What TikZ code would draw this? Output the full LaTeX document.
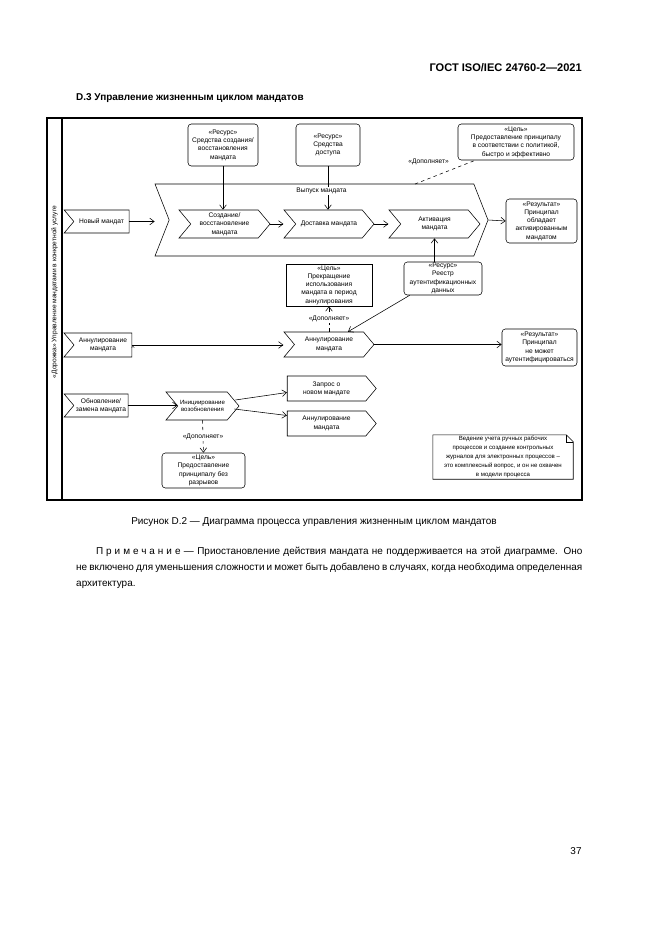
\documentclass[tikz,border=0pt]{standalone}
\usepackage{fontspec}
\setmainfont{Liberation Sans}
\usetikzlibrary{shapes.symbols,arrows.meta,positioning}
\newlength{\pxu}
\setlength{\pxu}{0.3177mm}
\begin{document}
\begin{tikzpicture}[x=\pxu,y=-\pxu,
    >={Straight Barb[length=4pt,width=6pt]},
    txt/.style={font=\fontsize{6}{7.5}\selectfont,align=center},
    sz/.style 2 args={minimum width=#1*\pxu,minimum height=#2*\pxu},
    res/.style={txt,draw,rounded corners=3pt,inner sep=0pt,line width=.5pt},
    goal/.style={txt,draw,inner sep=0pt,line width=.5pt},
    proc/.style={txt,draw,signal,signal from=west,signal to=east,
        signal pointer angle=100,inner sep=0pt,line width=.5pt},
    start/.style={proc,signal to=nowhere},
    fin/.style={proc,signal from=nowhere},
    flow/.style={->,line width=.5pt},
    adds/.style={->,dashed,line width=.5pt},
    tag/.style={txt,fill=white,inner sep=1pt},
    frame/.style={line width=1.8pt}]

    \useasboundingbox (0,0) rectangle (661,935);

    % the page texts
    \node[anchor=east,inner sep=0pt,font=\fontsize{10}{12}\bfseries] (gost) at (582,68)
    {ГОСТ ISO/IEC 24760-2—2021};
    \node[anchor=west,inner sep=0pt,font=\fontsize{9}{11}\bfseries] (title) at (76,98)
    {D.3 Управление жизненным циклом мандатов};
    \node[inner sep=0pt,font=\fontsize{9}{11}\selectfont] (caption) at (314,522)
    {Рисунок D.2 — Диаграмма процесса управления жизненным циклом мандатов};
    \node[anchor=north west,inner sep=0pt,text width=160.8mm,align=justify,
        font=\fontsize{9}{14.4}\selectfont] (remark) at (76,547)
    {\hspace*{6.3mm}{\addfontfeature{LetterSpace=30}Примечание} — Приостановление
      действия мандата не поддерживается на этой диаграмме. Оно\linebreak не
      включено для уменьшения сложности и может быть добавлено в случаях, когда
      необходима определенная\linebreak архитектура.};
    \node[inner sep=0pt,font=\fontsize{9}{11}\selectfont] (pageno) at (576,851) {37};

    % the lane
    \draw[frame] (47,118) rectangle (582,500);
    \draw[frame] (62,118) -- (62,500);
    \node[txt,rotate=90] (lane) at (54.5,292)
    {«Дорожка» Управление мандатами в конкретной услуге};

    % issue of a credential
    \node[proc,sz={333}{72},signal pointer angle=137] (issue) at (321.5,220) {};
    \node[start,sz={65}{23}] (newcr) at (101.5,221.5) {Новый мандат};
    \node[proc,sz={91}{28}] (create) at (224.5,224) {Создание/\\восстановление\\мандата};
    \node[proc,sz={90}{28}] (deliver) at (329,224) {Доставка мандата};
    \node[proc,sz={91}{28}] (activate) at (434.5,224) {Активация\\мандата};
    \node[res,sz={70}{42}] (tools) at (223,145)
    {«Ресурс»\\Средства создания/\\восстановления\\мандата};
    \node[res,sz={64}{42}] (access) at (328,145) {«Ресурс»\\Средства\\доступа};
    \node[res,sz={116}{36}] (aim) at (516,142)
    {«Цель»\\Предоставление принципалу\\в соответствии с политикой,\\быстро и эффективно};
    \node[res,sz={71}{44}] (owned) at (541.5,221)
    {«Результат»\\Принципал\\обладает\\активированным\\мандатом};
    \coordinate (issuetop) at (415,184);
    \coordinate (aimfoot) at (476,160);

    \draw[flow] (newcr.east) -- (newcr.east -| issue.north west);
    \draw[flow] (create.east) -- (create.east -| deliver.north west);
    \draw[flow] (deliver.east) -- (deliver.east -| activate.north west);
    \draw[flow] (issue.east) -- (owned.west);
    \draw[flow] (tools.south) -- (tools.south |- create.north);
    \draw[flow] (access.south) -- (access.south |- deliver.north);
    \draw[dashed,line width=.5pt] (issuetop) -- node[txt,pos=.62,above left=0pt] {«Дополняет»}
    (aimfoot);
    \node[tag,anchor=north] (issuename) at ([yshift=-3*\pxu]issue.north) {Выпуск мандата};

    % revocation
    \node[goal,sz={86}{42}] (stop) at (329,285)
    {«Цель»\\Прекращение\\использования\\мандата в период\\аннулирования};
    \node[res,sz={78}{33}] (store) at (443,278.5)
    {«Ресурс»\\Реестр\\аутентификационных\\данных};
    \node[proc,sz={90}{25}] (revoke) at (329,344.5) {Аннулирование\\мандата};
    \node[start,sz={68}{24}] (revstart) at (103,345) {Аннулирование\\мандата};
    \node[font=\fontsize{4}{4}\selectfont,inner sep=0pt] (revmark) at (133,347) {A};
    \node[res,sz={75}{37}] (denied) at (539.5,347.5)
    {«Результат»\\Принципал\\не может\\аутентифицироваться};

    \draw[flow] (store.north -| activate.south) -- (activate.south);
    \draw[flow] ([shift={(6,0)}]store.south west) -- ([shift={(19,0)}]revoke.north);
    \draw[adds] (revoke.north) -- node[tag] {«Дополняет»} (stop.south);
    \draw[flow] (revstart.east) -- (revstart.east -| revoke.north west);
    \draw[flow] (revoke.east) -- (revoke.east -| denied.west);

    % renewal
    \node[start,sz={64}{23}] (renew) at (101,405.5) {Обновление/\\замена мандата};
    \node[proc,sz={73}{28},font=\fontsize{5.5}{7}\selectfont] (init) at (202.5,406)
    {Инициирование\\возобновления};
    \node[fin,sz={89}{25}] (ask) at (326.5,388.5) {Запрос о\\новом мандате};
    \node[fin,sz={89}{25}] (cancel) at (326.5,423.5) {Аннулирование\\мандата};
    \node[res,sz={83}{35}] (seamless) at (203.5,470.5)
    {«Цель»\\Предоставление\\принципалу без\\разрывов};

    \draw[flow] (renew.east) -- (renew.east -| init.west);
    \draw[flow] ([shift={(-4,-6)}]init.east) -- ([shift={(0,4)}]ask.west);
    \draw[flow] ([shift={(-5,3)}]init.east) -- ([shift={(0,-8)}]cancel.west);
    \draw[adds] (init.south) -- node[tag] {«Дополняет»} (seamless.north);

    % the note
    \node[txt,font=\fontsize{5.5}{8}\selectfont,sz={140}{44},inner sep=0pt] (memo) at (503,457)
    {Ведение учета ручных рабочих\\процессов и создание контрольных\\журналов для электронных процессов –\\это комплексный вопрос, и он не охвачен\\в модели процесса};
    \draw[line width=.5pt] (memo.south west) -- (memo.north west)
    -- ([xshift=-7*\pxu]memo.north east) -- ([yshift=-7*\pxu]memo.north east)
    -- (memo.south east) -- cycle;
    \draw[line width=.5pt] ([xshift=-7*\pxu]memo.north east) -- ++(0,7) -- ++(7,0);
\end{tikzpicture}
\end{document}
